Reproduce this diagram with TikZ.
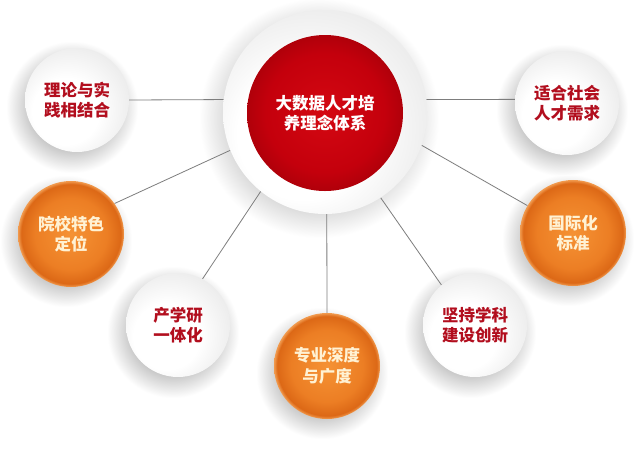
\documentclass[tikz,border=0pt]{standalone}
\usepackage{fontspec}
\newfontfamily\cjk{Noto Sans CJK SC}
\usetikzlibrary{backgrounds}
\definecolor{redtxt}{RGB}{178,14,30}
\definecolor{oratxt}{RGB}{255,242,212}
\definecolor{linegray}{RGB}{125,125,125}
\definecolor{shA}{RGB}{198,198,198}
\definecolor{wA}{RGB}{255,255,255}
\definecolor{wB}{RGB}{236,236,236}
\definecolor{wC}{RGB}{222,222,222}
\definecolor{orA}{RGB}{245,146,52}
\definecolor{orB}{RGB}{236,126,36}
\definecolor{orC}{RGB}{220,104,22}
\definecolor{orD}{RGB}{242,156,80}
\definecolor{redA}{RGB}{212,8,18}
\definecolor{redB}{RGB}{196,0,12}
\definecolor{redC}{RGB}{176,0,10}
\pgfdeclareradialshading{softshadow}{\pgfpoint{0bp}{0bp}}{color(0bp)=(shA); color(16bp)=(shA); color(25bp)=(white); color(50bp)=(white)}
\pgfdeclareradialshading{whiteball}{\pgfpoint{-8bp}{-8bp}}{color(0bp)=(wA); color(16bp)=(wA); color(30bp)=(wB); color(37bp)=(wC); color(50bp)=(wC)}
\pgfdeclareradialshading{orangeball}{\pgfpoint{0bp}{0bp}}{color(0bp)=(orA); color(17bp)=(orB); color(23.5bp)=(orC); color(25bp)=(orD); color(50bp)=(orD)}
\pgfdeclareradialshading{redball}{\pgfpoint{0bp}{0bp}}{color(0bp)=(redA); color(19bp)=(redB); color(25bp)=(redC); color(50bp)=(redC)}
\tikzset{
  txt/.style={font=\cjk\bfseries\fontsize{16.5pt}{20.5pt}\selectfont, align=center},
  wsat/.style={circle, inner sep=0pt, minimum size=104pt, shading=whiteball, txt, text=redtxt},
  osat/.style={circle, inner sep=0pt, minimum size=106pt, shading=orangeball, txt, text=oratxt},
  conn/.style={draw=linegray, line width=0.8pt},
  shadowc/.style={shading=softshadow}
}
\begin{document}
\begin{tikzpicture}[x=1pt,y=-1pt]
\useasboundingbox (0,0) rectangle (640,451);
% central
\node[circle, inner sep=0pt, minimum size=204pt, shading=whiteball] (c) at (325,112) {};
\node[circle, inner sep=0pt, minimum size=156pt, shading=redball, txt, text=white] (ci) at (325,113) {\raisebox{-3pt}{\parbox{7em}{\centering 大数据人才培\\养理念体系}}};
% satellites
\node[wsat] (s1) at (77,100) {理论与实\\践相结合};
\node[osat] (s2) at (71,234) {院校特色\\定位};
\node[wsat] (s3) at (178,325) {产学研\\一体化};
\node[osat] (s4) at (327,366) {专业深度\\与广度};
\node[wsat] (s5) at (475,325) {坚持学科\\建设创新};
\node[osat] (s6) at (573,233) {国际化\\标准};
\node[wsat] (s7) at (567,103) {适合社会\\人才需求};
\begin{scope}[on background layer]
  \fill[white] (0,0) rectangle (640,451);
  \shade[shadowc] ([shift={(-6,6)}]c.center) circle (120);
  \foreach \n in {s1,s2,s3,s4,s5,s6,s7}{
    \shade[shadowc] ([shift={(-5,7)}]\n.center) circle (66);
  }
  \draw[conn] (s1.0) -- (c.173);
  \draw[conn] (s2.35) -- (c.202);
  \draw[conn] (s3.62) -- (c.231);
  \draw[conn] (s4.north) -- (c.271);
  \draw[conn] (s5.130) -- (c.303);
  \draw[conn] (s6.149) -- (c.341);
  \draw[conn] (s7.176) -- (c.7);
\end{scope}
\end{tikzpicture}
\end{document}
